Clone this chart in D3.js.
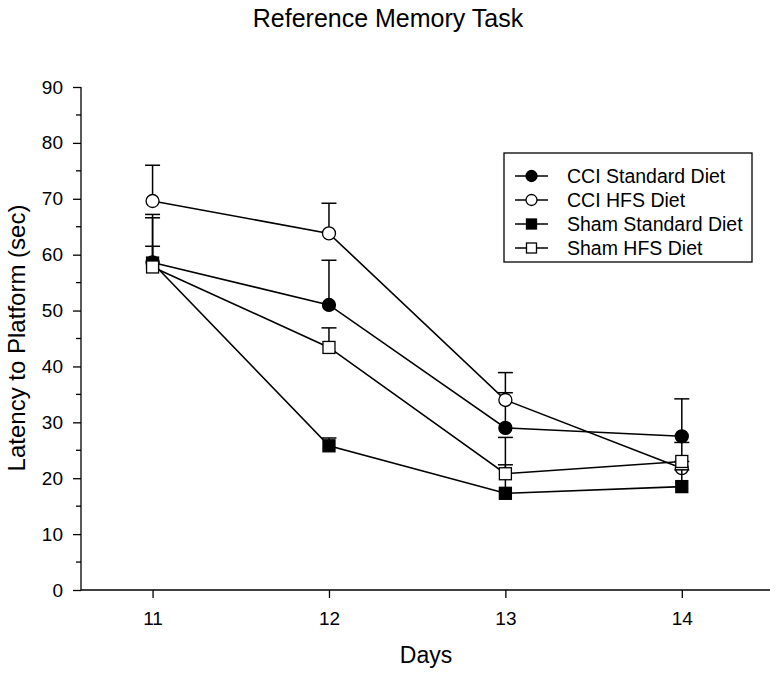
<!DOCTYPE html>
<html><head><meta charset="utf-8">
<script src="https://cdn.jsdelivr.net/npm/d3@7"></script>
<style>body{margin:0;background:#fff}svg{display:block}</style>
</head><body>
<script>
const days = [11, 12, 13, 14];
const seriesNames = ["CCI Standard Diet", "CCI HFS Diet", "Sham Standard Diet", "Sham HFS Diet"];
const cciStandard = [58.6, 51.0, 29.0, 27.5];
const cciStandardErr = [67.2, 59.0, 35.3, 34.2];
const cciHFS = [69.6, 63.8, 34.0, 21.8];
const cciHFSErr = [76.0, 69.2, 38.9, 23.0];
const shamStandard = [58.5, 25.8, 17.3, 18.5];
const shamStandardErr = [61.5, 27.2, 22.4, 21.5];
const shamHFS = [57.8, 43.4, 20.8, 23.0];
const shamHFSErr = [66.6, 46.9, 27.3, 26.4];
const yTicks = [0, 10, 20, 30, 40, 50, 60, 70, 80, 90];

const series = [
  {name: seriesNames[0], vals: cciStandard, err: cciStandardErr, shape: "circle", fill: "#000"},
  {name: seriesNames[1], vals: cciHFS, err: cciHFSErr, shape: "circle", fill: "#fff"},
  {name: seriesNames[2], vals: shamStandard, err: shamStandardErr, shape: "square", fill: "#000"},
  {name: seriesNames[3], vals: shamHFS, err: shamHFSErr, shape: "square", fill: "#fff"}
];

const W = 779, H = 676;
const svg = d3.select("body").append("svg").attr("width", W).attr("height", H);
const font = "Liberation Sans, Arial, sans-serif";
const x = d3.scaleLinear().domain([10.6, 14.5]).range([82, 770]);
const y = d3.scaleLinear().domain([0, 90]).range([590, 87]);

// axes
const yAxis = d3.axisLeft(y).tickValues(yTicks).tickSize(8).tickPadding(10);
const gy = svg.append("g").attr("transform", "translate(81,0)").call(yAxis);
gy.select(".domain").remove();
gy.append("line").attr("x1",0).attr("x2",0).attr("y1",y(90)).attr("y2",y(0)).attr("stroke","#000").attr("stroke-width",1.3);
gy.selectAll(".tick line").attr("stroke-width",1.3);
gy.selectAll("text").attr("font-family", font).attr("font-size", 19).attr("fill","#000");
// minor ticks
gy.selectAll(".minor").data(d3.range(5, 90, 10)).enter().append("line")
  .attr("x1",-5).attr("x2",0).attr("y1",d=>y(d)).attr("y2",d=>y(d)).attr("stroke","#000").attr("stroke-width",1.3);

const xAxis = d3.axisBottom(x).tickValues(days).tickFormat(d3.format("d")).tickSize(8).tickPadding(14);
const gx = svg.append("g").attr("transform", "translate(0,590)").call(xAxis);
gx.select(".domain").remove();
gx.append("line").attr("x1",x.range()[0]-1).attr("x2",x.range()[1]).attr("y1",0).attr("y2",0).attr("stroke","#000").attr("stroke-width",1.3);
gx.selectAll(".tick line").attr("stroke-width",1.3);
gx.selectAll("text").attr("font-family", font).attr("font-size", 19).attr("fill","#000");

// titles
svg.append("text").attr("x", 388).attr("y", 27).attr("text-anchor","middle")
  .attr("font-family", font).attr("font-size", 25).text("Reference Memory Task");
svg.append("text").attr("x", 426).attr("y", 663).attr("text-anchor","middle")
  .attr("font-family", font).attr("font-size", 23).text("Days");
svg.append("text").attr("transform","translate(25,338) rotate(-90)").attr("text-anchor","middle")
  .attr("font-family", font).attr("font-size", 24).text("Latency to Platform (sec)");

function marker(g, s, cx, cy, size) {
  if (s.shape === "circle") {
    g.append("circle").attr("cx",cx).attr("cy",cy).attr("r",size)
      .attr("fill",s.fill).attr("stroke","#000").attr("stroke-width",1.3);
  } else {
    g.append("rect").attr("x",cx-size).attr("y",cy-size).attr("width",2*size).attr("height",2*size)
      .attr("fill",s.fill).attr("stroke","#000").attr("stroke-width",1.3);
  }
}

const line = d3.line().x((d,i)=>x(days[i])).y(d=>y(d));
series.forEach(s => {
  const g = svg.append("g");
  // error bars
  s.vals.forEach((v,i) => {
    g.append("line").attr("x1",x(days[i])).attr("x2",x(days[i])).attr("y1",y(v)).attr("y2",y(s.err[i]))
      .attr("stroke","#000").attr("stroke-width",1.5);
    g.append("line").attr("x1",x(days[i])-7.5).attr("x2",x(days[i])+7.5).attr("y1",y(s.err[i])).attr("y2",y(s.err[i]))
      .attr("stroke","#000").attr("stroke-width",1.5);
  });
  g.append("path").datum(s.vals).attr("d", line).attr("fill","none").attr("stroke","#000").attr("stroke-width",1.6);
  s.vals.forEach((v,i) => marker(g, s, x(days[i]), y(v), s.shape==="circle"?6.5:6));
});

// legend
const lg = svg.append("g");
lg.append("rect").attr("x",504).attr("y",153).attr("width",248).attr("height",109)
  .attr("fill","#fff").attr("stroke","#000").attr("stroke-width",1.3);
const rowsY = [176, 200, 224, 248];
series.forEach((s,i) => {
  const yy = rowsY[i];
  lg.append("line").attr("x1",515).attr("x2",548).attr("y1",yy).attr("y2",yy).attr("stroke","#000").attr("stroke-width",1.6);
  marker(lg, s, 531.5, yy, s.shape==="circle"?5.5:5);
  lg.append("text").attr("x",567).attr("y",yy+7).attr("font-family",font).attr("font-size",19.5).text(s.name);
});
</script>
</body></html>
